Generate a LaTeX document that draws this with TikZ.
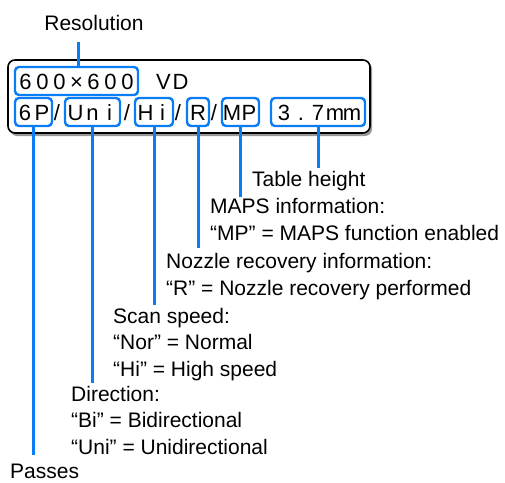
\documentclass[tikz,border=0pt]{standalone}
\usepackage{fontspec}
\setmainfont{Liberation Sans}
\usetikzlibrary{positioning}
\definecolor{lcdblue}{RGB}{10,125,245}
% one fixed-width cell per character, like the panel display
\newcommand\lcd[1]{\lcdloop#1\relax}
\def\lcdloop#1{\ifx\relax#1\else\makebox[17pt]{#1}\expandafter\lcdloop\fi}
\begin{document}
\begin{tikzpicture}[x=1pt,y=-1pt,
   field/.style={draw=lcdblue,line width=2.4pt,rounded corners=4pt,minimum height=28pt,
     inner sep=0pt,text height=16pt,text depth=0pt,font=\fontsize{22}{22}\selectfont},
   glyph/.style={inner sep=0pt,text height=16pt,text depth=0pt,font=\fontsize{22}{22}\selectfont},
   lead/.style={draw=lcdblue,line width=3pt},
   lbl/.style={anchor=base west,inner sep=0pt,align=left},
   every node/.style={font=\fontsize{21}{26.5}\selectfont}]
  \useasboundingbox (0,0) rectangle (505,482);
  % display panel with shadow
  \fill[black!40,rounded corners=7pt] (10,62) rectangle (372,136);
  \draw[fill=white,line width=1.6pt,rounded corners=7pt] (8,60) rectangle (370,133);
  % first row
  \node[field,minimum width=123pt] (res) at (76.5,81) {\lcd{600×600}};
  \node[glyph] (vd) at (172,81) {\lcd{VD}};
  % second row
  \node[field,minimum width=37pt] (pass) at (33.5,112) {\lcd{6P}};
  \node[field,minimum width=55pt] (dir) at (92.5,112) {\lcd{Uni}};
  \node[field,minimum width=38pt] (speed) at (154,112) {\lcd{Hi}};
  \node[field,minimum width=22pt] (noz) at (198,112) {\lcd{R}};
  \node[field,minimum width=37pt] (maps) at (240.5,112) {\lcd{MP}};
  \node[field,minimum width=94pt] (tab) at (318,112) {\lcd{3.7mm}};
  \node[glyph] (s1) at (57,112) {/};
  \node[glyph] (s2) at (127,112) {/};
  \node[glyph] (s3) at (178,112) {/};
  \node[glyph] (s4) at (214,112) {/};
  % labels (base = last line)
  \node[anchor=base] (lblres) at (94,30) {Resolution};
  \node[lbl] (lbltab) at (252,186) {Table height};
  \node[lbl] (lblmaps) at (210,240) {MAPS information:\\“MP” = MAPS function enabled};
  \node[lbl] (lblnoz) at (166,295) {Nozzle recovery information:\\“R” = Nozzle recovery performed};
  \node[lbl] (lblscan) at (113,376) {Scan speed:\\“Nor” = Normal\\“Hi” = High speed};
  \node[lbl] (lbldir) at (71,454) {Direction:\\“Bi” = Bidirectional\\“Uni” = Unidirectional};
  \node[lbl] (lblpass) at (10,478) {Passes};
  % leader ends
  \coordinate (eres) at (78,42);
  \coordinate (etab) at (318,168);
  \coordinate (emaps) at (240.5,197);
  \coordinate (enoz) at (198,248);
  \coordinate (espeed) at (154,305);
  \coordinate (edir) at (92.5,383);
  \coordinate (epass) at (33.5,455);
  % leaders
  \draw[lead] (res.north -| eres) -- (eres);
  \draw[lead] (tab.south) -- (etab);
  \draw[lead] (maps.south) -- (emaps);
  \draw[lead] (noz.south) -- (enoz);
  \draw[lead] (speed.south) -- (espeed);
  \draw[lead] (dir.south) -- (edir);
  \draw[lead] (pass.south) -- (epass);
\end{tikzpicture}
\end{document}
